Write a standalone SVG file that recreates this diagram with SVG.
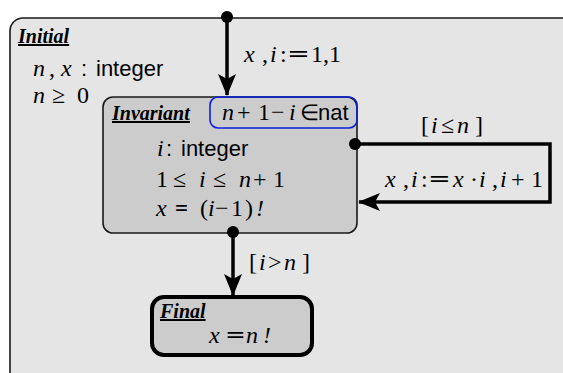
<svg xmlns="http://www.w3.org/2000/svg" width="563" height="373" viewBox="0 0 563 373">
  <style>
    .m { font-family: "Liberation Serif", "Times New Roman", serif; font-style: italic; font-size: 24px; fill: #000; }
    .up { font-style: normal; }
    .s { font-family: "Liberation Sans", Arial, sans-serif; font-style: normal; font-size: 22px; }
    .eq { font-family: "Liberation Serif", "Times New Roman", serif; font-weight: bold; font-size: 23px; fill: #000; }
    .title { font-family: "Liberation Serif", "Times New Roman", serif; font-style: italic; font-weight: bold; font-size: 20px; text-decoration: underline; fill: #000; }
    .edge { fill: none; stroke: #000; stroke-width: 3.5; }
    .dot { fill: #000; }
  </style>
  <defs>
    <marker id="arrow" viewBox="0 0 22 18" refX="21" refY="9" markerWidth="22" markerHeight="18" markerUnits="userSpaceOnUse" orient="auto">
      <path d="M0,0 L22,9 L0,18 L5,9 Z" fill="#000"/>
    </marker>
  </defs>

  <rect width="563" height="373" fill="#ffffff"/>

  <!-- outer state: Initial -->
  <g id="initial">
    <rect x="10" y="18" width="620" height="420" rx="13" fill="#e5e5e5" stroke="#1a1a1a" stroke-width="1.6"/>
    <text x="18" y="43" class="title">Initial</text>
    <text y="76" class="m"><tspan x="33">n</tspan><tspan x="49" class="up">,</tspan><tspan x="61">x</tspan><tspan x="81" class="s">:</tspan><tspan x="96" class="s">integer</tspan></text>
    <text y="103" class="m"><tspan x="33">n</tspan><tspan x="52" class="up">≥</tspan><tspan x="77" class="up">0</tspan></text>
  </g>

  <!-- loop state: Invariant -->
  <g id="invariant">
    <rect x="103" y="97" width="254" height="136" rx="10" fill="#cccccc" stroke="#1a1a1a" stroke-width="1.6"/>
    <text x="112" y="120" class="title">Invariant</text>
    <rect x="210" y="97" width="147" height="31" rx="8" fill="none" stroke="#0a1fe0" stroke-width="1.6"/>
    <text y="120" class="m"><tspan x="222">n</tspan><tspan x="237" class="up">+</tspan><tspan x="258" class="up">1</tspan><tspan x="271" class="up">−</tspan><tspan x="289">i</tspan><tspan x="300" class="up" font-size="22">∈</tspan><tspan x="318" class="s">nat</tspan></text>
    <text y="156" class="m"><tspan x="157">i</tspan><tspan x="166" class="s">:</tspan><tspan x="181" class="s">integer</tspan></text>
    <text y="187" class="m"><tspan x="156" class="up">1</tspan><tspan x="173" class="up">≤</tspan><tspan x="199">i</tspan><tspan x="213" class="up">≤</tspan><tspan x="239">n</tspan><tspan x="253" class="up">+</tspan><tspan x="273" class="up">1</tspan></text>
    <text y="216" class="m"><tspan x="156">x</tspan><tspan x="200" class="up">(</tspan><tspan x="208">i</tspan><tspan x="215" class="up">−</tspan><tspan x="231" class="up">1</tspan><tspan x="245" class="up">)</tspan><tspan x="256">!</tspan></text>
    <text x="175" y="216" class="eq" textLength="13" lengthAdjust="spacingAndGlyphs">=</text>
  </g>

  <!-- end state: Final -->
  <g id="final">
    <rect x="152" y="297" width="160" height="58" rx="12" fill="#cccccc" stroke="#000" stroke-width="4"/>
    <text x="160" y="318" class="title">Final</text>
    <text y="343" class="m"><tspan x="209">x</tspan><tspan x="246">n</tspan><tspan x="263">!</tspan></text>
    <text x="226" y="343" class="eq" textLength="19" lengthAdjust="spacingAndGlyphs">=</text>
  </g>

  <!-- transitions -->
  <g id="connectors">
    <circle cx="227" cy="17" r="6" class="dot"/>
    <line x1="227" y1="17" x2="227" y2="95" class="edge" marker-end="url(#arrow)"/>
    <text y="62" class="m"><tspan x="244">x</tspan><tspan x="262" class="up">,</tspan><tspan x="270">i</tspan><tspan x="280" class="up">:</tspan><tspan x="311" class="up">1,1</tspan></text>
    <text x="288" y="62" class="eq" textLength="21" lengthAdjust="spacingAndGlyphs">=</text>

    <circle cx="355" cy="144" r="6" class="dot"/>
    <polyline points="355,144 550,144 550,202 359,202" class="edge" marker-end="url(#arrow)"/>
    <text y="133" class="m"><tspan x="421" class="up">[</tspan><tspan x="431">i</tspan><tspan x="441" class="up">≤</tspan><tspan x="457">n</tspan><tspan x="475" class="up">]</tspan></text>
    <text y="187" class="m"><tspan x="385">x</tspan><tspan x="403" class="up">,</tspan><tspan x="411">i</tspan><tspan x="421" class="up">:</tspan><tspan x="453">x</tspan><tspan x="470" class="up">·</tspan><tspan x="479">i</tspan><tspan x="492" class="up">,</tspan><tspan x="500">i</tspan><tspan x="511" class="up">+</tspan><tspan x="531" class="up">1</tspan></text>
    <text x="429" y="187" class="eq" textLength="21" lengthAdjust="spacingAndGlyphs">=</text>

    <circle cx="233" cy="232" r="6" class="dot"/>
    <line x1="233" y1="232" x2="233" y2="295" class="edge" marker-end="url(#arrow)"/>
    <text y="270" class="m"><tspan x="249" class="up">[</tspan><tspan x="259">i</tspan><tspan x="268" class="up">&gt;</tspan><tspan x="284">n</tspan><tspan x="302" class="up">]</tspan></text>
  </g>
</svg>
